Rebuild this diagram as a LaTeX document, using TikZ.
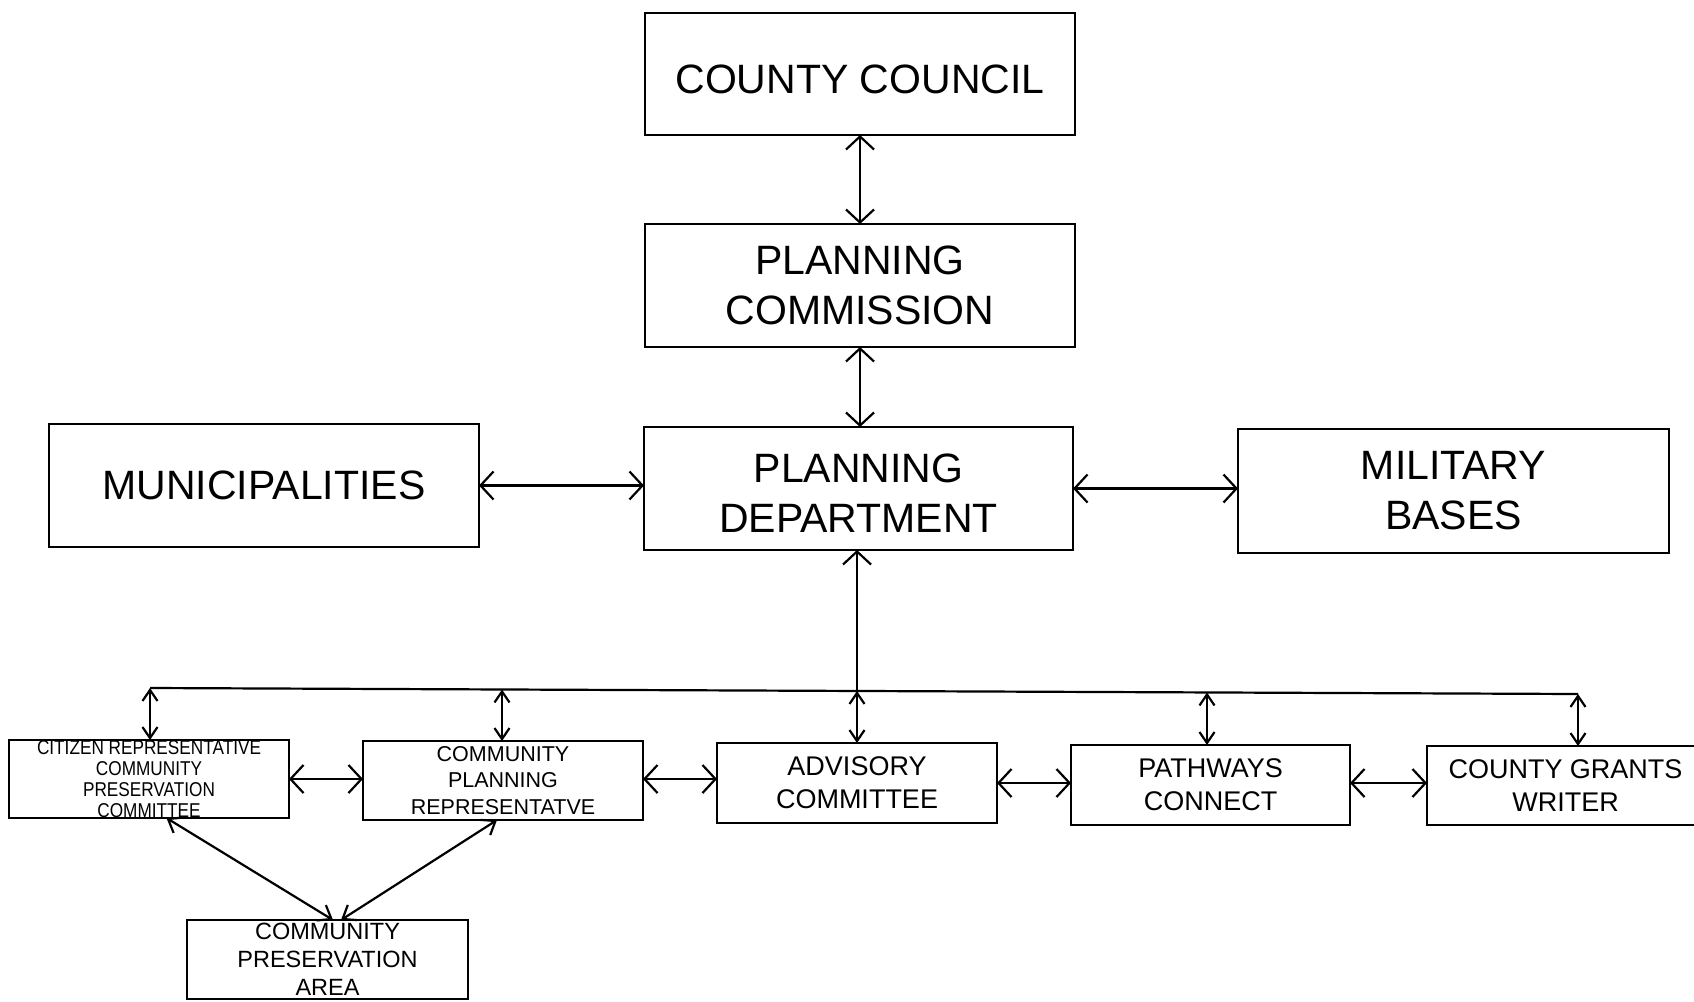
\documentclass[tikz,border=0pt]{standalone}
\usepackage{fontspec}
\setmainfont{Liberation Sans}
\newfontfamily\narrowsans[FakeStretch=0.86]{Liberation Sans}
\usetikzlibrary{arrows.meta}
\tikzset{
  box/.style={draw, line width=2.3pt, inner sep=0pt, outer sep=0pt, align=center, anchor=north west},
  bigfont/.style={font=\fontsize{41}{50}\selectfont},
  midfont/.style={font=\fontsize{27}{33}\selectfont},
  bigarrow/.style={line width=2.2pt, {Straight Barb[length=13pt,width=28pt]}-{Straight Barb[length=13pt,width=28pt]}},
  smallarrow/.style={line width=2.2pt, {Straight Barb[length=11pt,width=15pt]}-{Straight Barb[length=11pt,width=15pt]}},
  diagarrow/.style={line width=2.2pt, {Straight Barb[length=12pt,width=18pt]}-{Straight Barb[length=12pt,width=18pt]}},
  conn/.style={line width=2.2pt}
}
\begin{document}
\begin{tikzpicture}[x=1pt,y=-1pt]
\useasboundingbox (0,0) rectangle (1694,1001);
\clip (0,0) rectangle (1694,1001);
\fill[white] (0,0) rectangle (1694,1001);

% top column
\node[box, bigfont, text height=39pt, minimum width=430pt, minimum height=122pt] (cc) at (645,13) {COUNTY COUNCIL};
\node[box, bigfont, minimum width=430pt, minimum height=123pt] (pc) at (645,224) {PLANNING\\COMMISSION};
\node[box, bigfont, text height=88pt, minimum width=429pt, minimum height=123pt] (pd) at (644,427) {PLANNING\\DEPARTMENT};
\node[box, font=\fontsize{41}{48}\selectfont, minimum width=430pt, minimum height=123pt] (mun) at (49,424) {MUNICIPALITIES};
\node[box, bigfont, minimum width=431pt, minimum height=124pt] (mb) at (1238,429) {MILITARY\\BASES};

% bottom row
\node[box, font=\narrowsans\fontsize{20}{21}\selectfont, minimum width=280pt, minimum height=78pt] (cit) at (9,740)
  {CITIZEN REPRESENTATIVE\\COMMUNITY\\PRESERVATION\\COMMITTEE};
\node[box, font=\fontsize{21.5}{26.5}\selectfont, minimum width=280pt, minimum height=79pt] (cpr) at (363,741)
  {COMMUNITY\\PLANNING\\REPRESENTATVE};
\node[box, midfont, minimum width=280pt, minimum height=80pt] (adv) at (717,743) {ADVISORY\\COMMITTEE};
\node[box, midfont, minimum width=279pt, minimum height=80pt] (path) at (1071,745) {PATHWAYS\\CONNECT};
\node[box, midfont, minimum width=277pt, minimum height=79pt] (grant) at (1427,746) {COUNTY GRANTS\\WRITER};
\node[box, font=\fontsize{23.5}{28}\selectfont, minimum width=281pt, minimum height=79pt] (cpa) at (187,920)
  {COMMUNITY\\PRESERVATION\\AREA};

% top connectors
\draw[bigarrow] (cc.south) -- (pc.north);
\draw[bigarrow] (pc.south) -- (pc.south |- pd.north);
\draw[bigarrow] (mun.east) -- (mun.east -| pd.west);
\draw[bigarrow] (pd.east) -- (pd.east -| mb.west);

% bus
\coordinate (b1) at (150,688);
\coordinate (b2) at (502,689.5);
\coordinate (b3) at (857,691);
\coordinate (b4) at (1207,692.5);
\coordinate (b5) at (1578,694);
\draw[conn] (b1) -- (b5);
\draw[conn, -{Straight Barb[length=13pt,width=28pt]}] (b3) -- (b3 |- pd.south);
\draw[smallarrow] (b1) -- (b1 |- cit.north);
\draw[smallarrow] (b2) -- (b2 |- cpr.north);
\draw[smallarrow] (b3) -- (b3 |- adv.north);
\draw[smallarrow] (b4) -- (b4 |- path.north);
\draw[smallarrow] (b5) -- (b5 |- grant.north);

% bottom horizontal connectors
\draw[bigarrow] (cit.east) -- (cit.east -| cpr.west);
\draw[bigarrow] ([yshift=1.5pt]cpr.east) -- ([yshift=1.5pt]cpr.east -| adv.west);
\draw[bigarrow] (adv.east) -- (adv.east -| path.west);
\draw[bigarrow] ([yshift=2pt]path.east) -- ([yshift=2pt]path.east -| grant.west);

% diagonals
\draw[diagarrow] ([xshift=17.5pt]cit.south) -- ([xshift=5.5pt]cpa.north);
\draw[diagarrow] ([xshift=-6pt]cpr.south) -- ([xshift=13.5pt]cpa.north);
\end{tikzpicture}
\end{document}
